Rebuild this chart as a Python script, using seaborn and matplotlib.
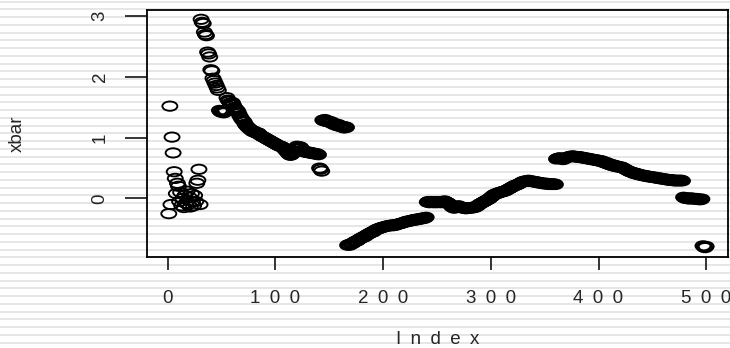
import numpy as np
import matplotlib
matplotlib.use("Agg")
import matplotlib.pyplot as plt
from matplotlib.path import Path
from matplotlib.lines import Line2D
import seaborn as sns

# running mean values, one per index 1..500
seg_start = [-0.25, 1.52, -0.10, 1.01, 0.75, 0.44, 0.33, 0.08, 0.25, 0.20,
             -0.05, 0.10, -0.12, 0.00, -0.15, 0.05, -0.08, 0.12, -0.10, 0.02,
             -0.14, 0.08, -0.05, -0.12, 0.05, -0.05, 0.25, 0.30, 0.48, -0.10]
seg_peak = [2.95, 2.90, 2.88, 2.74, 2.70, 2.68, 2.41, 2.38, 2.33, 2.12,
            2.10, 1.98, 1.94, 1.90, 1.86, 1.82, 1.78]
seg_knee = [1.45, 1.43, 1.42, 1.44, 1.41, 1.43, 1.45, 1.66, 1.62, 1.60,
            1.57, 1.55, 1.58, 1.54, 1.50, 1.48, 1.46, 1.44, 1.40]
seg_decay = [1.36, 1.33, 1.30, 1.28, 1.26, 1.22, 1.20, 1.18, 1.16, 1.15,
             1.13, 1.12, 1.10, 1.11, 1.09, 1.08, 1.07, 1.08, 1.06, 1.04,
             1.03, 1.02, 1.01, 1.00, 0.99, 0.98, 0.97, 0.96, 0.95, 0.94,
             0.93, 0.92, 0.91, 0.90, 0.89, 0.88, 0.87, 0.86, 0.86, 0.85,
             0.84, 0.82, 0.80, 0.78, 0.76, 0.74, 0.72, 0.71, 0.72, 0.74,
             0.78, 0.82, 0.84, 0.86, 0.85, 0.84, 0.85, 0.83, 0.80, 0.78,
             0.77, 0.76, 0.77, 0.76, 0.75, 0.76, 0.75, 0.74, 0.75, 0.74,
             0.73, 0.74, 0.73, 0.72]
seg_dip = [0.50, 0.48, 0.45]
seg_jump = [1.29, 1.28, 1.30, 1.27, 1.28, 1.26, 1.27, 1.25, 1.26, 1.24,
            1.22, 1.23, 1.21, 1.20, 1.22, 1.19, 1.20, 1.18, 1.19, 1.17,
            1.16, 1.18, 1.17]
seg_low = [-0.77, -0.76, -0.77, -0.75, -0.74, -0.74, -0.72, -0.71, -0.70, -0.70,
           -0.68, -0.67, -0.66, -0.65, -0.64, -0.63, -0.63, -0.61, -0.60, -0.59,
           -0.58, -0.57, -0.56, -0.55, -0.55, -0.53, -0.52, -0.51, -0.50, -0.50,
           -0.49, -0.48, -0.48, -0.47, -0.47, -0.46, -0.46, -0.45, -0.45, -0.45,
           -0.44, -0.44, -0.45, -0.44, -0.43, -0.44, -0.43, -0.42, -0.42, -0.41,
           -0.41, -0.40, -0.40, -0.39, -0.38, -0.38, -0.37, -0.38, -0.37, -0.36,
           -0.36, -0.35, -0.36, -0.35, -0.34, -0.35, -0.34, -0.33, -0.34, -0.33,
           -0.32, -0.33, -0.32, -0.31]
seg_flat = [-0.06, -0.05, -0.07, -0.06, -0.05, -0.06, -0.07, -0.05, -0.06, -0.07,
            -0.06, -0.05, -0.06, -0.07, -0.06, -0.05, -0.04, -0.05, -0.06, -0.07,
            -0.08, -0.10, -0.12, -0.14, -0.15, -0.16, -0.15, -0.14, -0.13, -0.12,
            -0.13, -0.14, -0.15, -0.16, -0.15, -0.16, -0.17, -0.16, -0.15, -0.16,
            -0.15, -0.16, -0.15, -0.14, -0.15, -0.14, -0.13, -0.12, -0.10, -0.09,
            -0.08, -0.07, -0.06, -0.05, -0.04, -0.03, -0.02, -0.01, 0.00, 0.02,
            0.03, 0.05, 0.06, 0.07, 0.08, 0.08, 0.09, 0.10, 0.10, 0.11]
seg_rise = [0.11, 0.12, 0.12, 0.13, 0.14, 0.15, 0.16, 0.17, 0.18, 0.19,
            0.20, 0.21, 0.22, 0.22, 0.23, 0.24, 0.25, 0.26, 0.27, 0.28,
            0.28, 0.29, 0.28, 0.29, 0.30, 0.29, 0.28, 0.29, 0.28, 0.27,
            0.28, 0.27, 0.26, 0.27, 0.26, 0.25, 0.26, 0.25, 0.24, 0.25,
            0.24, 0.25, 0.24, 0.23, 0.24, 0.23, 0.24, 0.23, 0.24, 0.23]
seg_arc = [0.65, 0.66, 0.66, 0.67, 0.66, 0.65, 0.64, 0.65, 0.66, 0.67,
           0.68, 0.68, 0.69, 0.69, 0.70, 0.69, 0.70, 0.69, 0.68, 0.69,
           0.68, 0.69, 0.68, 0.67, 0.68, 0.67, 0.66, 0.67, 0.66, 0.65,
           0.66, 0.65, 0.64, 0.65, 0.64, 0.63, 0.64, 0.63, 0.62, 0.63,
           0.62, 0.61, 0.62, 0.60, 0.59, 0.60, 0.58, 0.57, 0.58, 0.56,
           0.55, 0.56, 0.54, 0.55, 0.53, 0.54, 0.52, 0.53, 0.52, 0.51,
           0.52, 0.51, 0.50, 0.49, 0.48, 0.47, 0.46, 0.45, 0.44, 0.44,
           0.43, 0.42, 0.41, 0.42, 0.41, 0.40, 0.39, 0.40, 0.39, 0.38,
           0.38, 0.37, 0.38, 0.37, 0.36, 0.37, 0.36, 0.35, 0.36, 0.35,
           0.35, 0.34, 0.35, 0.34, 0.33, 0.34, 0.33, 0.32, 0.33, 0.32,
           0.32, 0.31, 0.32, 0.31, 0.30, 0.31, 0.30, 0.31, 0.30, 0.29,
           0.30, 0.29, 0.30, 0.29, 0.30, 0.29, 0.30, 0.29]
seg_zero = [0.02, 0.01, 0.00, 0.01, 0.00, -0.01, 0.00, 0.01, 0.00, -0.01,
            0.00, -0.01, 0.00, -0.01, -0.02, -0.01, -0.02, -0.01]
seg_end = [-0.78, -0.80, -0.81, -0.79]

xbar = (seg_start + seg_peak + seg_knee + seg_decay + seg_dip + seg_jump +
        seg_low + seg_flat + seg_rise + seg_arc + seg_zero + seg_end)
index = np.arange(1, len(xbar) + 1)

x_ticks = [0, 100, 200, 300, 400, 500]
x_tick_labels = ["0", "1\u20020\u20020", "2\u20020\u20020", "3\u20020\u20020",
                 "4\u20020\u20020", "5\u20020\u20020"]
y_ticks = [0, 1, 2, 3]
y_tick_labels = ["0", "1", "2", "3"]

sns.set_style("white")
plt.rcParams["font.family"] = ["Liberation Sans", "DejaVu Sans"]

W, H = 730, 348
fig = plt.figure(figsize=(W / 100, H / 100), dpi=100)
fig.patch.set_facecolor("white")

# faint horizontal banding over the whole canvas
y = 1.7
while y < H:
    fig.add_artist(Line2D([0, 1], [1 - y / H] * 2, transform=fig.transFigure,
                          color="#e2e2e2", lw=1.2, zorder=-5))
    y += 7.75

left, right, top, bottom = 147.3, 727.7, 10.0, 256.7
ax = fig.add_axes([left / W, 1 - bottom / H, (right - left) / W, (bottom - top) / H])
ax.patch.set_alpha(0)

# open ellipse marker
circ = Path.unit_circle()
ring = Path(circ.vertices * np.array([1.0, 0.62]), circ.codes)

sns.scatterplot(x=index, y=xbar, marker=ring, s=10.8 ** 2, facecolor="none",
                edgecolor="black", linewidth=1.35, ax=ax, legend=False)

ax.set_xlim(-18.96, 519.96)
ax.set_ylim(-0.959, 3.103)
ax.set_xticks(x_ticks)
ax.set_xticklabels(x_tick_labels)
ax.set_yticks(y_ticks)
ax.set_yticklabels(y_tick_labels, rotation=90, va="center")

for s in ax.spines.values():
    s.set_visible(True)
    s.set_color("black")
    s.set_linewidth(1.3)

ax.tick_params(axis="x", length=9.4, width=1.1, color="black", labelsize=13.5,
               pad=14.5, direction="out", bottom=True)
ax.tick_params(axis="y", length=15.8, width=1.1, color="black", labelsize=13.5,
               pad=12, direction="out", left=True)

ax.set_xlabel("I\u2002n\u2002d\u2002e\u2002x", fontsize=13.5, va="center")
ax.xaxis.set_label_coords(0.5, (bottom - 339) / (bottom - top))
ax.set_ylabel("xbar", fontsize=13.5, va="center")
ax.yaxis.set_label_coords((17 - left) / (right - left), 0.5)

fig.savefig("out.png", dpi=100)
